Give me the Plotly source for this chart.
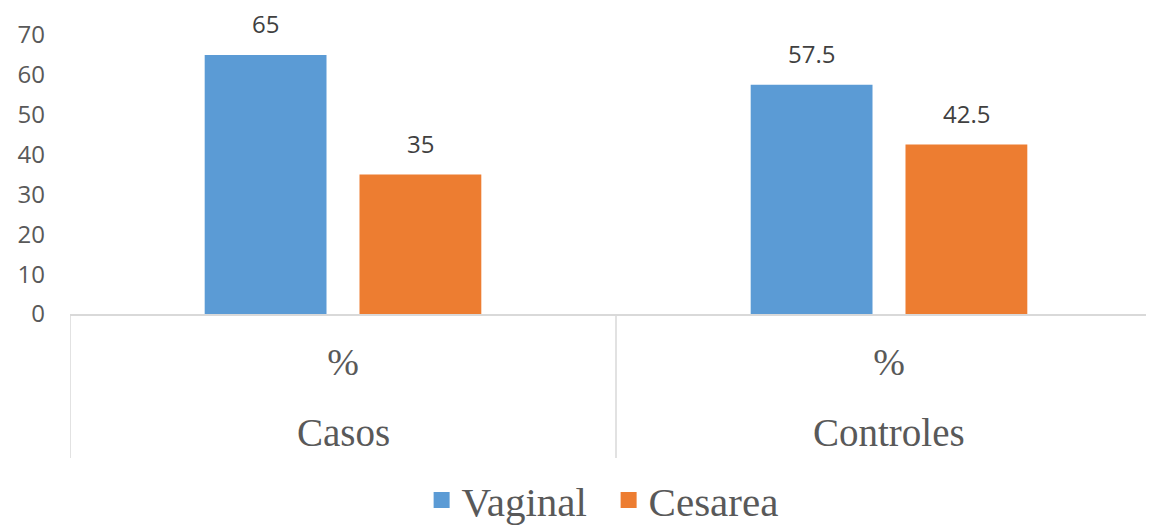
import plotly.graph_objects as go

groups = ["Casos", "Controles"]
level1 = ["%", "%"]
series_names = ["Vaginal", "Cesarea"]
vaginal = [65, 57.5]
cesarea = [35, 42.5]
colors = ["#5B9BD5", "#ED7D31"]
y_ticks = [0, 10, 20, 30, 40, 50, 60, 70]

BARGAP = 0.433
SLOT = (1 - BARGAP) / 2

fig = go.Figure()
for name, vals, col in zip(series_names, [vaginal, cesarea], colors):
    fig.add_trace(go.Bar(x=groups, y=vals, name=name, marker_color=col,
                         marker_line_width=0, showlegend=False, legendgroup=name))
# legend entries with larger square swatches
for name, col in zip(series_names, colors):
    fig.add_trace(go.Scatter(x=[None], y=[None], mode="markers", name=name,
                             legendgroup=name,
                             marker=dict(symbol="square", size=16, color=col)))

# data labels above bars
for s_idx, vals in enumerate([vaginal, cesarea]):
    off = (s_idx - 0.5) * SLOT
    for g_idx, v in enumerate(vals):
        fig.add_annotation(x=g_idx + off, y=v, xref="x", yref="y",
                           text=f"{v:g}", showarrow=False, yanchor="bottom",
                           yshift=13,
                           font=dict(family="Open Sans", size=24, color="#404040"))

# group labels (outer category level)
for g_idx, g in enumerate(groups):
    fig.add_annotation(x=g_idx, y=-0.4265, xref="x", yref="paper", text=g,
                       showarrow=False, yanchor="middle",
                       font=dict(family="Liberation Serif", size=39, color="#595959"))

# category dividers
for xpos in [-0.5, 0.5, 1.5]:
    fig.add_shape(type="line", xref="x", yref="paper", x0=xpos, x1=xpos,
                  y0=0, y1=-0.516, line=dict(color="#D9D9D9", width=1.5))

fig.update_layout(
    width=1154, height=525,
    margin=dict(l=62, r=0, t=27, b=219, autoexpand=False),
    paper_bgcolor="white", plot_bgcolor="white",
    barmode="group", bargap=BARGAP, bargroupgap=0.213,
    showlegend=True,
    legend=dict(orientation="h", x=0.322, xanchor="left", y=-0.668, yanchor="middle",
                font=dict(family="Liberation Serif", size=41, color="#595959"),
                traceorder="normal", itemsizing="trace",
                entrywidth=142, entrywidthmode="pixels"),
    yaxis=dict(range=[0, 70], tickvals=y_ticks, showgrid=False, zeroline=False,
               showline=False, ticks="", ticklabelstandoff=24, automargin=False,
               tickfont=dict(family="Open Sans", size=24, color="#595959")),
    xaxis=dict(type="category", range=[-0.5, 1.5], showline=True,
               linecolor="#D9D9D9", linewidth=1.5, ticks="", automargin=False,
               tickvals=groups, ticktext=level1, ticklabelstandoff=14,
               tickfont=dict(family="Liberation Serif", size=38, color="#595959")),
)
fig.write_html("out.html")
